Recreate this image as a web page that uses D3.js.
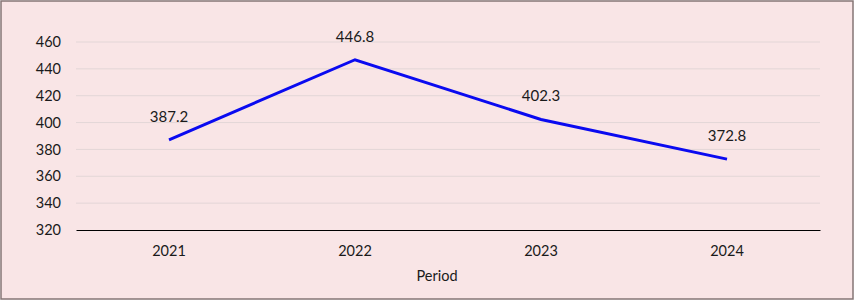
<!DOCTYPE html>
<html><head><meta charset="utf-8">
<script src="https://cdn.jsdelivr.net/npm/d3@7"></script>
<style>html,body{margin:0;padding:0;background:#fff;}svg{display:block;}</style>
</head><body>
<svg id="c" width="856" height="302"></svg>
<script>
const categories = ["2021","2022","2023","2024"];
const values = [387.2, 446.8, 402.3, 372.8];
const yTicks = [320,340,360,380,400,420,440,460];
const xTitle = "Period";

const svg = d3.select("#c");
const font = "Lato, 'Open Sans', sans-serif";
svg.append("rect").attr("x",1).attr("y",1).attr("width",852).attr("height",298)
  .attr("fill","#f9e5e6").attr("stroke","#857575").attr("stroke-width",1.5);

const x = d3.scaleBand().domain(categories).range([76,820]);
const y = d3.scaleLinear().domain([320,460]).range([230,42]);

const g = svg.append("g");
g.selectAll("line.grid").data(yTicks.filter(t=>t!==320)).enter().append("line")
  .attr("x1",76).attr("x2",820).attr("y1",d=>y(d)).attr("y2",d=>y(d))
  .attr("stroke","#e3d6d7").attr("stroke-width",1);

const yAxis = g.append("g").attr("transform","translate(76,0)")
  .call(d3.axisLeft(y).tickValues(yTicks).tickSize(0).tickPadding(15));
yAxis.select(".domain").remove();
yAxis.selectAll("text").attr("font-family",font).attr("font-size",14.5).attr("fill","#1a1a1a");

const xAxis = g.append("g").attr("transform","translate(0,230)")
  .call(d3.axisBottom(x).tickSize(0).tickPadding(16));
xAxis.select(".domain").attr("stroke","#000").attr("stroke-width",1);
xAxis.selectAll("text").attr("font-family",font).attr("font-size",14.5).attr("fill","#1a1a1a");

const line = d3.line().x((d,i)=>x(categories[i])+x.bandwidth()/2).y(d=>y(d));
g.append("path").datum(values).attr("d",line).attr("fill","none")
  .attr("stroke","#0a0af0").attr("stroke-width",3).attr("stroke-linejoin","miter");

g.selectAll("text.lbl").data(values).enter().append("text")
  .attr("x",(d,i)=>x(categories[i])+x.bandwidth()/2).attr("y",d=>y(d)-18)
  .attr("text-anchor","middle").attr("font-family",font).attr("font-size",15).attr("fill","#1a1a1a")
  .text(d=>d.toFixed(1));

svg.append("text").attr("x",437).attr("y",281).attr("text-anchor","middle")
  .attr("font-family",font).attr("font-size",14.5).attr("fill","#1a1a1a").text(xTitle);
</script>
</body></html>
